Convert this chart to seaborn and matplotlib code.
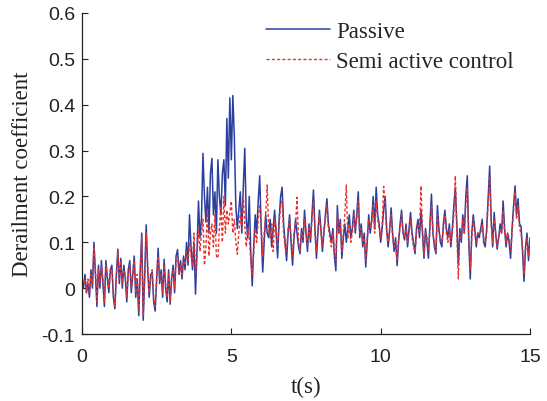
import numpy as np
import pandas as pd
import matplotlib
matplotlib.use("Agg")
import matplotlib.pyplot as plt
import seaborn as sns

# Derailment coefficient sampled every 0.05 s (one row per second)
passive = [
    0.02, 0.00, 0.03, -0.01, 0.01, -0.02, 0.04, 0.00, 0.10, 0.03, -0.04, 0.05, 0.00, 0.06, 0.01, -0.04, 0.06, 0.02, -0.01, 0.04,
    0.05, -0.02, -0.045, 0.03, 0.085, 0.01, 0.065, 0.00, 0.05, 0.02, -0.03, 0.04, 0.06, -0.01, 0.03, 0.07, -0.02, 0.02, -0.06, 0.04,
    0.12, -0.07, 0.03, 0.138, 0.04, -0.02, 0.03, 0.035, -0.03, -0.05, 0.02, 0.087, 0.01, 0.04, -0.02, 0.063, 0.00, -0.03, 0.04, -0.035,
    0.02, 0.05, -0.01, 0.07, 0.084, 0.03, 0.06, 0.02, 0.07, 0.04, 0.10, 0.05, 0.16, 0.09, 0.04, 0.10, -0.013, 0.08, 0.19, 0.11,
    0.15, 0.294, 0.20, 0.144, 0.22, 0.12, 0.25, 0.283, 0.16, 0.21, 0.12, 0.28, 0.20, 0.16, 0.25, 0.28, 0.18, 0.37, 0.24, 0.415,
    0.28, 0.42, 0.33, 0.18, 0.13, 0.17, 0.21, 0.12, 0.22, 0.305, 0.15, 0.11, 0.20, 0.08, 0.005, 0.09, 0.16, 0.12, 0.19, 0.245,
    0.13, 0.035, 0.10, 0.16, 0.12, 0.11, 0.15, 0.09, 0.13, 0.17, 0.12, 0.066, 0.15, 0.20, 0.22, 0.14, 0.10, 0.06, 0.12, 0.16,
    0.10, 0.05, 0.11, 0.15, 0.12, 0.09, 0.075, 0.13, 0.10, 0.17, 0.12, 0.08, 0.14, 0.10, 0.16, 0.214, 0.13, 0.065, 0.12, 0.17,
    0.13, 0.08, 0.12, 0.16, 0.195, 0.14, 0.12, 0.10, 0.13, 0.07, 0.038, 0.18, 0.12, 0.15, 0.065, 0.11, 0.14, 0.10, 0.13, 0.16,
    0.11, 0.13, 0.17, 0.12, 0.16, 0.21, 0.11, 0.14, 0.09, 0.12, 0.046, 0.10, 0.16, 0.12, 0.15, 0.20, 0.13, 0.22, 0.16, 0.14,
    0.10, 0.13, 0.17, 0.20, 0.13, 0.09, 0.125, 0.175, 0.12, 0.08, 0.11, 0.049, 0.10, 0.14, 0.17, 0.12, 0.105, 0.14, 0.09, 0.13,
    0.165, 0.12, 0.10, 0.075, 0.13, 0.15, 0.11, 0.17, 0.12, 0.065, 0.13, 0.10, 0.065, 0.14, 0.205, 0.12, 0.09, 0.075, 0.18, 0.13,
    0.10, 0.09, 0.14, 0.17, 0.13, 0.11, 0.14, 0.09, 0.13, 0.18, 0.22, 0.14, 0.05, 0.13, 0.10, 0.16, 0.12, 0.20, 0.245, 0.10,
    0.02, 0.12, 0.16, 0.13, 0.09, 0.12, 0.11, 0.13, 0.15, 0.10, 0.09, 0.13, 0.20, 0.266, 0.15, 0.09, 0.165, 0.12, 0.085, 0.11,
    0.14, 0.12, 0.19, 0.13, 0.09, 0.12, 0.10, 0.065, 0.13, 0.18, 0.223, 0.16, 0.195, 0.14, 0.135, 0.08, 0.015, 0.09, 0.12, 0.06,
    0.11,
]

semi_active = [
    0.02, 0.01, 0.02, -0.01, 0.02, -0.01, 0.03, 0.01, 0.09, 0.04, -0.03, 0.04, 0.01, 0.05, 0.02, -0.03, 0.05, 0.03, 0.00, 0.04,
    0.04, -0.01, -0.04, 0.02, 0.08, 0.02, 0.06, 0.01, 0.04, 0.03, -0.02, 0.03, 0.05, 0.00, 0.03, 0.06, -0.01, 0.03, -0.05, 0.03,
    0.11, -0.06, 0.02, 0.12, 0.05, -0.01, 0.02, 0.04, -0.02, -0.04, 0.03, 0.07, 0.02, 0.03, -0.01, 0.05, 0.01, -0.02, 0.03, -0.03,
    0.02, 0.04, 0.00, 0.06, 0.07, 0.03, 0.05, 0.03, 0.06, 0.05, 0.08, 0.06, 0.10, 0.07, 0.05, 0.12, 0.03, 0.07, 0.13, 0.08,
    0.12, 0.15, 0.05, 0.09, 0.17, 0.07, 0.12, 0.14, 0.09, 0.16, 0.07, 0.065, 0.13, 0.18, 0.10, 0.20, 0.12, 0.17, 0.14, 0.165,
    0.19, 0.12, 0.15, 0.10, 0.074, 0.12, 0.16, 0.13, 0.20, 0.14, 0.09, 0.13, 0.11, 0.06, 0.03, 0.08, 0.13, 0.10, 0.15, 0.18,
    0.14, 0.07, 0.12, 0.16, 0.225, 0.13, 0.11, 0.14, 0.08, 0.15, 0.13, 0.09, 0.14, 0.18, 0.19, 0.12, 0.09, 0.08, 0.13, 0.15,
    0.11, 0.07, 0.12, 0.14, 0.198, 0.10, 0.08, 0.12, 0.11, 0.15, 0.13, 0.09, 0.13, 0.11, 0.15, 0.19, 0.12, 0.08, 0.13, 0.16,
    0.12, 0.09, 0.13, 0.15, 0.18, 0.13, 0.11, 0.09, 0.12, 0.08, 0.06, 0.16, 0.12, 0.14, 0.08, 0.12, 0.16, 0.225, 0.11, 0.14,
    0.10, 0.12, 0.16, 0.13, 0.15, 0.19, 0.12, 0.13, 0.10, 0.11, 0.06, 0.11, 0.15, 0.13, 0.14, 0.18, 0.12, 0.19, 0.15, 0.13,
    0.11, 0.14, 0.222, 0.18, 0.12, 0.10, 0.13, 0.16, 0.11, 0.09, 0.10, 0.06, 0.11, 0.13, 0.16, 0.12, 0.11, 0.13, 0.10, 0.12,
    0.15, 0.11, 0.09, 0.08, 0.12, 0.14, 0.12, 0.223, 0.13, 0.07, 0.12, 0.11, 0.08, 0.13, 0.18, 0.12, 0.10, 0.08, 0.16, 0.12,
    0.11, 0.10, 0.13, 0.16, 0.12, 0.10, 0.13, 0.10, 0.12, 0.16, 0.245, 0.12, 0.02, 0.12, 0.11, 0.15, 0.12, 0.18, 0.22, 0.11,
    0.04, 0.11, 0.15, 0.12, 0.10, 0.12, 0.12, 0.12, 0.14, 0.11, 0.10, 0.12, 0.19, 0.24, 0.14, 0.10, 0.15, 0.12, 0.09, 0.11,
    0.13, 0.12, 0.17, 0.12, 0.10, 0.12, 0.11, 0.08, 0.12, 0.17, 0.21, 0.15, 0.18, 0.13, 0.12, 0.09, 0.03, 0.08, 0.11, 0.07,
    0.10,
]

t_start, t_end = 0.0, 15.0
series_labels = ["Passive", "Semi active control"]
x_ticks = [0, 5, 10, 15]
y_ticks = [-0.1, 0, 0.1, 0.2, 0.3, 0.4, 0.5, 0.6]
y_tick_labels = ["-0.1", "0", "0.1", "0.2", "0.3", "0.4", "0.5", "0.6"]

time = np.linspace(t_start, t_end, len(passive))

sns.set_style("ticks")
plt.rcParams["font.family"] = ["Liberation Sans", "DejaVu Sans"]
plt.rcParams["xtick.direction"] = "in"
plt.rcParams["ytick.direction"] = "in"

fig = plt.figure(figsize=(5.47, 4.02), dpi=100)
ax = fig.add_axes([82 / 547, 67 / 402, 448 / 547, 321 / 402])

sns.lineplot(x=time, y=passive, ax=ax, color="#2b3f9e", linewidth=1.1,
             label=series_labels[0], estimator=None)
sns.lineplot(x=time, y=semi_active, ax=ax, color="#e8312a", linewidth=1.0,
             linestyle=(0, (2.2, 1.6)), label=series_labels[1], estimator=None)

ax.set_xlim(t_start, t_end)
ax.set_ylim(-0.1, 0.6)
ax.set_xticks(x_ticks)
ax.set_yticks(y_ticks)
ax.set_yticklabels(y_tick_labels)
ax.tick_params(axis="both", labelsize=14, length=4, width=0.8, colors="#222222",
               labelcolor="#222222")
ax.tick_params(axis="x", pad=10)
ax.tick_params(axis="y", pad=5)
for side in ["top", "right"]:
    ax.spines[side].set_visible(False)
for side in ["left", "bottom"]:
    ax.spines[side].set_linewidth(0.9)
    ax.spines[side].set_color("#222222")

serif = ["Liberation Serif", "DejaVu Serif"]
ax.set_xlabel("t(s)", fontsize=16.5, family=serif, color="#222222", labelpad=8)
ax.set_ylabel("Derailment coefficient", fontsize=16.5, family=serif, color="#222222", labelpad=6)

leg = ax.legend(loc="upper left", bbox_to_anchor=(266 / 547, 1 - 22 / 402),
                bbox_transform=fig.transFigure, frameon=False,
                prop={"family": serif, "size": 16.5},
                handlelength=2.8, handletextpad=0.25, labelspacing=0.4,
                borderpad=0, borderaxespad=0)

fig.savefig("out.png", dpi=100)
